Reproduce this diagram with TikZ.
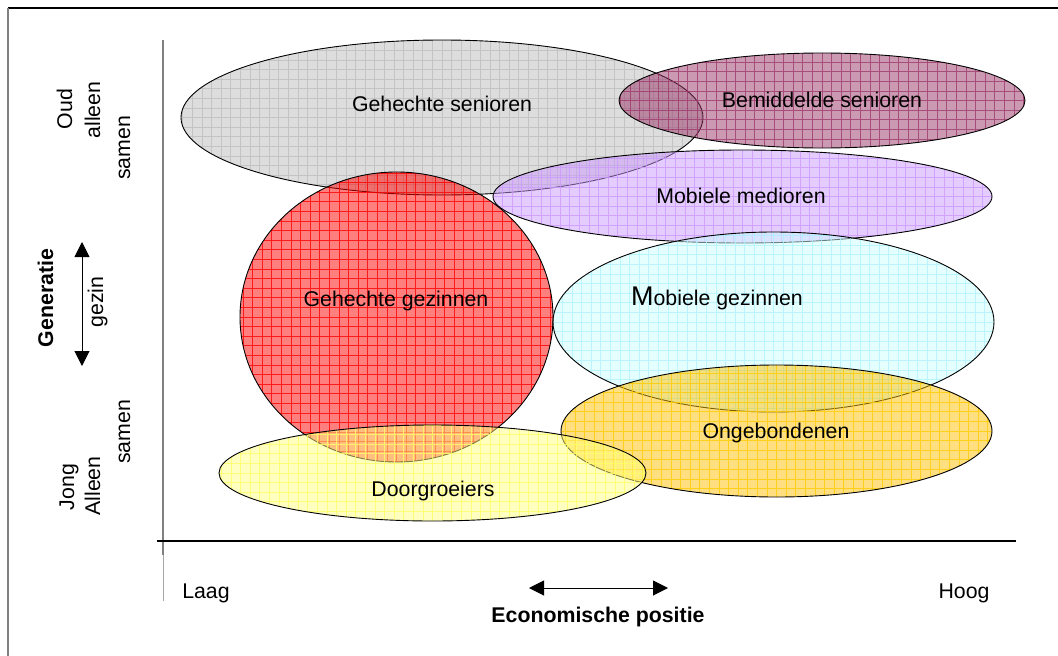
\documentclass[tikz,border=0pt]{standalone}
\usepackage{fontspec}
\setmainfont{Liberation Sans}
\usetikzlibrary{arrows.meta,shapes.geometric}

% fill colours of the segments and their grid lines
\definecolor{greyfill}{HTML}{BBBBBB}
\definecolor{greyline}{HTML}{B4B4B4}
\definecolor{plumfill}{HTML}{993366}
\definecolor{plumline}{HTML}{993366}
\definecolor{lilacfill}{HTML}{CC99FF}
\definecolor{lilacline}{HTML}{CC99FF}
\definecolor{redfill}{HTML}{FF0000}
\definecolor{redline}{HTML}{FF0000}
\definecolor{cyanfill}{HTML}{CCFFFF}
\definecolor{cyanline}{HTML}{B0F2FF}
\definecolor{goldfill}{HTML}{FFC000}
\definecolor{goldline}{HTML}{FFCC00}
\definecolor{lemonfill}{HTML}{FFFF80}
\definecolor{lemonline}{HTML}{FFFF66}
\definecolor{axisgrey}{HTML}{808080}

\begin{document}
\begin{tikzpicture}[x=1pt,y=-1pt,
  zone/.style n args={5}{ellipse, draw=black, line width=0.9pt,
    inner sep=0pt, outer sep=0pt, minimum width=#1pt, minimum height=#2pt,
    fill=#3, fill opacity=0.5,
    path picture={\draw[#4, line width=0.8pt, draw opacity=#5]
      (path picture bounding box.south west) grid[step=9.6pt]
      (path picture bounding box.north east);}},
  lbl/.style={font=\fontsize{21.3}{25}\selectfont, inner sep=0pt, anchor=base},
  vlbl/.style={lbl, rotate=90},
  dbl/.style={{Triangle[length=15pt,width=15pt]}-{Triangle[length=15pt,width=15pt]},
    line width=1pt, black}]

\useasboundingbox (0,0) rectangle (1058,656);

% frame
\draw[black, line width=1.2pt] (8,8) -- (1058,8);
\draw[axisgrey, line width=1.2pt] (8,8) -- (8,656);

% axes
\draw[axisgrey, line width=1.4pt] (163,40) -- (163,555);
\draw[axisgrey!70, line width=0.8pt] (163,555) -- (163,601);
\draw[black, line width=1.2pt] (157,541) -- (1016,541);

% segments
\node[zone={522}{155}{greyfill}{greyline}{0.6}]   (gs) at (442,117.5) {};
\node[zone={406}{95}{plumfill}{plumline}{0.75}]   (bs) at (822,100.5) {};
\node[zone={499}{93}{lilacfill}{lilacline}{0.8}]  (mm) at (742.5,196.5) {};
\node[zone={313}{290}{redfill}{redline}{0.8}]     (gg) at (396.5,317) {};
\node[zone={441}{180}{cyanfill}{cyanline}{0.8}]   (mg) at (773.5,322) {};
\node[zone={431}{132}{goldfill}{goldline}{0.8}]   (og) at (776.5,431) {};
\node[zone={427}{96}{lemonfill}{lemonline}{0.8}]  (dg) at (432.5,473) {};

% segment names
\node[lbl] (tgs) at (442,111) {Gehechte senioren};
\node[lbl] (tbs) at (822,107) {Bemiddelde senioren};
\node[lbl] (tmm) at (741,203) {Mobiele medioren};
\node[lbl] (tgg) at (396,306) {Gehechte gezinnen};
\node[lbl] (tmg) at (717,305) {{\fontsize{27}{30}\selectfont M}obiele gezinnen};
\node[lbl] (tog) at (776,438) {Ongebondenen};
\node[lbl] (tdg) at (433,496) {Doorgroeiers};

% vertical axis texts
\node[vlbl] (oud)    at (72,109)  {Oud};
\node[vlbl] (alleen) at (100,110) {alleen};
\node[vlbl] (samen1) at (130,148) {samen};
\node[vlbl, font=\fontsize{21.3}{25}\selectfont\bfseries] (gen) at (53,298) {Generatie};
\node[vlbl] (gezin)  at (103,302) {gezin};
\node[vlbl] (samen2) at (130,432) {samen};
\node[vlbl] (jong)   at (74,487)  {Jong};
\node[vlbl] (alleen2) at (100,486) {Alleen};

\coordinate (vt) at (82,242);
\coordinate (vb) at (82,366);
\draw[dbl] (vt) -- (vb);

% horizontal axis texts
\node[lbl] (laag) at (206,598) {Laag};
\node[lbl] (hoog) at (964,598) {Hoog};
\node[lbl, font=\fontsize{21.3}{25}\selectfont\bfseries] (eco) at (598,622) {Economische positie};

\coordinate (hl) at (529,588);
\coordinate (hr) at (668,588);
\draw[dbl] (hl) -- (hr);

\end{tikzpicture}
\end{document}
